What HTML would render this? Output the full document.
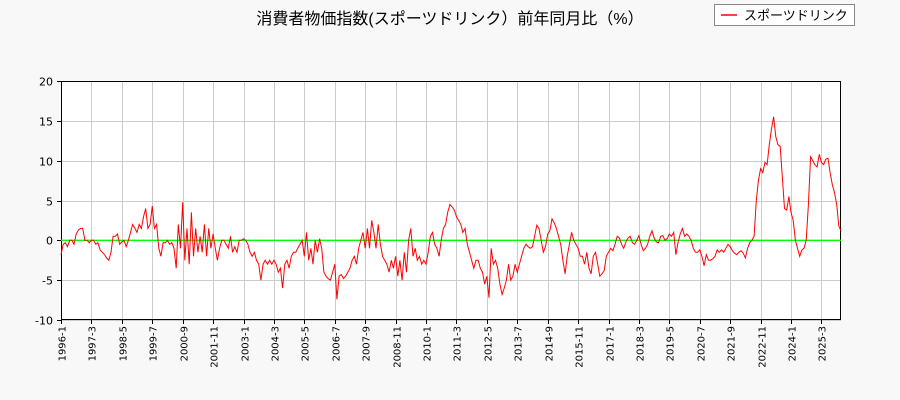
<!DOCTYPE html>
<html><head><meta charset="utf-8"><style>
body{margin:0;background:#f8f8f8;}
svg{display:block;font-family:"Liberation Sans","Noto Sans CJK JP",sans-serif;}
.tk{font-family:"DejaVu Sans","Liberation Sans",sans-serif;}
</style></head><body>
<svg id="chart" width="900" height="400">
<rect width="900" height="400" fill="#f8f8f8"/>
<text x="450" y="24" text-anchor="middle" font-size="16" fill="#000">消費者物価指数(スポーツドリンク）前年同月比（%）</text>
<g>
<rect x="714.5" y="4.5" width="140" height="21" fill="#fff" stroke="#888"/>
<line x1="721" y1="15" x2="737" y2="15" stroke="red" stroke-width="1.5"/>
<text x="744" y="20" font-size="13">スポーツドリンク</text>
</g>
<g id="grid"></g><g id="axes"></g><g id="series"></g>
</svg>
<script>
const yTicks=[-10,-5,0,5,10,15,20];
const xTickLabels=["1996-1","1997-3","1998-5","1999-7","2000-9","2001-11","2003-1","2004-3","2005-5","2006-7","2007-9","2008-11","2010-1","2011-3","2012-5","2013-7","2014-9","2015-11","2017-1","2018-3","2019-5","2020-7","2021-9","2022-11","2024-1","2025-3"];
const y1996=[-1.8,-0.5,-0.3,-0.8,0,0,-0.5,0.8,1.3,1.5,1.5,0];
const y1997=[0,-0.3,0,0,-0.5,-0.3,-1.2,-1.5,-1.8,-2.2,-2.5,-1.5];
const y1998=[0.5,0.5,0.8,-0.5,-0.2,0,-0.8,0,1,2,1.5,1];
const y1999=[2,1.5,3,4,1.5,2,4.3,1.5,2,-1,-2,-0.3];
const y2000=[-0.3,0,-0.5,-0.3,-1,-3.5,2,-1,4.8,-2.5,1.5,-3];
const y2001=[3.5,-2,1.5,-1.5,0.5,-1.5,2,-2,1.5,-1,0.8,-1];
const y2002=[-2.5,-1,0,0,-0.5,-1,0.5,-1.5,-0.8,-1.5,0,0];
const y2003=[0.2,0,-0.5,-1.5,-2,-1.5,-2.5,-3,-5,-3,-2.5,-3];
const y2004=[-2.5,-3,-2.5,-3,-4,-3.5,-6,-3,-2.5,-3.5,-2,-1.5];
const y2005=[-1.5,-1,-0.5,0,-2,1,-2.5,-1,-3,0,-1.5,0.2];
const y2006=[-1,-4,-4.5,-4.8,-5,-4,-3,-7.4,-4.5,-4.3,-4.8,-4.5];
const y2007=[-4,-3.5,-2.5,-2,-3,-1,0,1,-1,1.5,-1,2.5];
const y2008=[1,-1,2,-0.5,-2,-2.5,-3,-4,-2.5,-3.5,-2,-4.5];
const y2009=[-2.5,-5,-1.5,-4,0,1.5,-2,-1,-2.5,-2,-3,-2.5];
const y2010=[-3,-1.5,0.5,1,-0.5,-1,-2,0,1.5,2,3.5,4.5];
const y2011=[4.2,3.8,3,2.5,2,1,1.5,-0.5,-1.5,-2.5,-3.5,-2.5];
const y2012=[-2.5,-3.5,-4,-5.5,-4.5,-7.2,-1,-3,-2.5,-3.5,-5.5,-6.8];
const y2013=[-6,-5,-3,-5,-4.5,-3,-4,-3,-2,-1,-0.5,-0.8];
const y2014=[-1,-0.8,0.5,1.9,1.5,0,-1.5,-0.8,0.8,1.2,2.7,2.2];
const y2015=[1.5,0.5,-0.5,-2.5,-4.2,-2,-0.5,1,0,-0.5,-1,-2];
const y2016=[-2,-3,-1.5,-3.5,-4.2,-2,-1.5,-3,-4.5,-4.2,-3.8,-2];
const y2017=[-1.5,-1,-1.3,-0.5,0.5,0.3,-0.5,-1,-0.2,0.3,0.5,-0.3];
const y2018=[-0.5,0,0.6,-0.5,-1.3,-1,-0.5,0.5,1.2,0.3,-0.2,-0.3];
const y2019=[0.5,0.6,0,0.2,0.8,0.5,1,-1.8,-0.3,0.8,1.5,0.5];
const y2020=[0.8,0.5,0,-1,-1.5,-1.5,-1.2,-2,-3.2,-1.8,-2.5,-2.5];
const y2021=[-2.3,-2,-1.2,-1.5,-1.2,-1.5,-1,-0.5,-0.8,-1.3,-1.6,-1.8];
const y2022=[-1.5,-1.3,-1.6,-2.2,-1,-0.3,0,0.5,5,7.5,9,8.5];
const y2023=[9.8,9.5,12,14,15.5,13,12,11.8,8,4,3.8,5.5];
const y2024=[3.5,2.5,0,-1,-2,-1.2,-1,0,4.5,10.5,10,9.5];
const y2025=[9.2,10.8,9.8,9.5,10.2,10.3,8.5,7,6,4.5,1.8,1.2];
const values=[].concat(y1996,y1997,y1998,y1999,y2000,y2001,y2002,y2003,y2004,y2005,y2006,y2007,y2008,y2009,y2010,y2011,y2012,y2013,y2014,y2015,y2016,y2017,y2018,y2019,y2020,y2021,y2022,y2023,y2024,y2025);

const L=61,R=841,T=81,B=320,NS="http://www.w3.org/2000/svg";
const n=values.length;
const xs=i=>L+i*(R-L)/(n-1);
const ys=v=>B-(v+10)*(B-T)/30;
function mk(tag,attrs,parent){const e=document.createElementNS(NS,tag);for(const k in attrs)e.setAttribute(k,attrs[k]);parent.appendChild(e);return e;}
const grid=document.getElementById('grid'),axes=document.getElementById('axes'),series=document.getElementById('series');
const pr=mk('rect',{x:L,y:T,width:R-L,height:B-T,fill:'#fff'},grid);


yTicks.forEach(v=>{
  const y=Math.round(ys(v))+0.5;
  const g=mk('line',{x1:L,x2:R,y1:y,y2:y,stroke:'#ccc'},grid);
  
  
  const t=mk('line',{x1:L-4,x2:L,y1:y,y2:y,stroke:'#000'},axes);
  
  
  const tx=mk('text',{x:L-8,y:y+4,'text-anchor':'end','font-size':11,'class':'tk'},axes);
  tx.textContent=v;
  
  
});
xTickLabels.forEach((lab,i)=>{
  const x=Math.round(xs(i*14))+0.5;
  const g=mk('line',{x1:x,x2:x,y1:T,y2:B,stroke:'#ccc'},grid);
  
  
  const t=mk('line',{x1:x,x2:x,y1:B,y2:B+4,stroke:'#000'},axes);
  
  
  const tx=mk('text',{x:0,y:0,'text-anchor':'end','font-size':10,'class':'tk',transform:`translate(${x+4},${B+6}) rotate(-90)`},axes);
  tx.textContent=lab;
  
  
});
const zl=mk('line',{x1:L,x2:R,y1:ys(0),y2:ys(0),stroke:'#00ff00','stroke-width':1.3},series);


const fr=mk('rect',{x:L+0.5,y:T+0.5,width:R-L-1,height:B-T-1,fill:'none',stroke:'#000'},axes);


const pts=values.map((v,i)=>xs(i).toFixed(1)+','+ys(v).toFixed(1)).join(' ');
const pl=mk('polyline',{points:pts,fill:'none',stroke:'red','stroke-width':1},series);


</script>
</body></html>
